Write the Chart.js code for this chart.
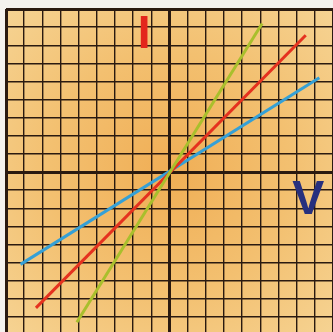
<!DOCTYPE html>
<html>
<head>
<meta charset="utf-8">
<script src="https://cdn.jsdelivr.net/npm/chart.js@4"></script>
<style>
  html, body { margin: 0; padding: 0; background: #f4f2ee; overflow: hidden; }
  #wrap { position: relative; width: 340px; height: 340px; }
</style>
</head>
<body>
<div id="wrap"><canvas id="grafico" width="340" height="340"></canvas></div>
<script>
// assi: -9 .. 9 in entrambe le direzioni
const AX_MIN = -9;
const AX_MAX = 9;

// estremi delle tre rette (x, y)
const VERDE_X = [-5.1, 5.1];
const VERDE_Y = [-8.3, 8.2];
const ROSSO_X = [-7.35, 7.5];
const ROSSO_Y = [-7.5, 7.55];
const BLU_X = [-8.2, 8.25];
const BLU_Y = [-5.1, 5.2];

const ETICHETTA_Y = 'I';
const ETICHETTA_X = 'V';

function punti(xs, ys) {
  return xs.map((x, i) => ({ x: x, y: ys[i] }));
}

const sfondo = {
  id: 'sfondo',
  beforeDraw(chart) {
    const c = chart.ctx;
    const a = chart.chartArea;
    c.save();
    c.fillStyle = '#f4f2ee';
    c.fillRect(0, 0, chart.width, chart.height);
    const cx = chart.scales.x.getPixelForValue(0);
    const cy = chart.scales.y.getPixelForValue(0);
    const g = c.createRadialGradient(cx, cy, 0, cx, cy, 240);
    g.addColorStop(0, '#f0ae55');
    g.addColorStop(0.5, '#f3c070');
    g.addColorStop(1, '#f6d596');
    c.fillStyle = g;
    c.fillRect(a.left, a.top, a.right - a.left, a.bottom - a.top);
    c.restore();
  },
  afterDraw(chart) {
    const c = chart.ctx;
    const sx = chart.scales.x, sy = chart.scales.y;
    c.save();
    c.font = 'bold 46px "Liberation Sans", Arial, sans-serif';
    c.textAlign = 'center';
    c.textBaseline = 'alphabetic';
    c.fillStyle = '#e3261c';
    c.fillText(ETICHETTA_Y, sx.getPixelForValue(-1.4), sy.getPixelForValue(6.85));
    c.font = 'bold 48px "Liberation Sans", Arial, sans-serif';
    c.fillStyle = '#27307e';
    c.fillText(ETICHETTA_X, sx.getPixelForValue(7.64), sy.getPixelForValue(-2.3));
    c.restore();
  }
};

function larghezza(ctx) {
  const v = ctx.tick.value;
  if (v === 0) return 3;
  if (v === AX_MIN || v === AX_MAX) return 3;
  return 1.4;
}

const ctx = document.getElementById('grafico').getContext('2d');

new Chart(ctx, {
  type: 'scatter',
  data: {
    datasets: [
      {
        label: 'verde',
        data: punti(VERDE_X, VERDE_Y),
        showLine: true,
        borderColor: '#a9bf2c',
        borderWidth: 3,
        pointRadius: 0
      },
      {
        label: 'rosso',
        data: punti(ROSSO_X, ROSSO_Y),
        showLine: true,
        borderColor: '#e5321f',
        borderWidth: 3,
        pointRadius: 0
      },
      {
        label: 'blu',
        data: punti(BLU_X, BLU_Y),
        showLine: true,
        borderColor: '#35a0d6',
        borderWidth: 3,
        pointRadius: 0
      }
    ]
  },
  options: {
    responsive: false,
    animation: false,
    layout: { padding: { left: 6, top: 9, right: 7, bottom: 5 } },
    plugins: { legend: { display: false }, tooltip: { enabled: false } },
    scales: {
      x: {
        type: 'linear',
        min: AX_MIN,
        max: AX_MAX,
        ticks: { display: false, stepSize: 1 },
        border: { display: false },
        grid: { color: '#2a1a10', lineWidth: larghezza, drawTicks: false }
      },
      y: {
        type: 'linear',
        min: AX_MIN,
        max: AX_MAX,
        ticks: { display: false, stepSize: 1 },
        border: { display: false },
        grid: { color: '#2a1a10', lineWidth: larghezza, drawTicks: false }
      }
    }
  },
  plugins: [sfondo]
});
</script>
</body>
</html>
